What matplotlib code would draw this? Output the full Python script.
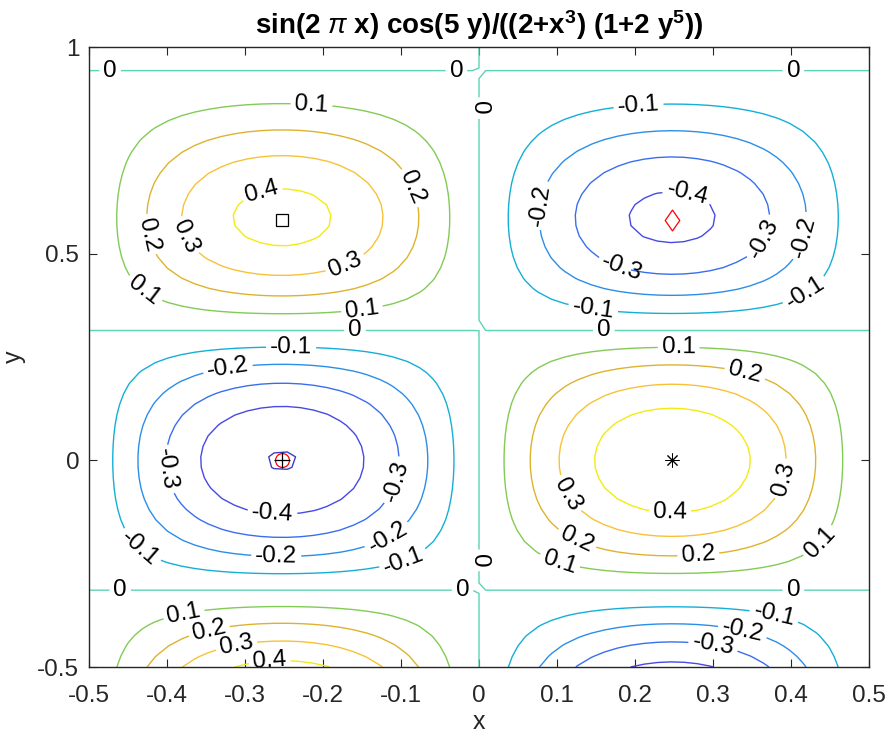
import numpy as np
import matplotlib
matplotlib.use("Agg")
import matplotlib.pyplot as plt
from matplotlib.path import Path

plt.rcParams['font.family'] = ['Liberation Sans', 'DejaVu Sans']
plt.rcParams['mathtext.fontset'] = 'custom'
plt.rcParams['mathtext.rm'] = 'Liberation Sans:bold'
plt.rcParams['mathtext.bf'] = 'Liberation Sans:bold'
plt.rcParams['mathtext.it'] = 'Liberation Sans:italic'

# ---- data ----
x_range = [-0.5, 0.5]
y_range = [-0.5, 1.0]
n_grid = 60
levels = [-0.5, -0.4, -0.3, -0.2, -0.1, 0.0, 0.1, 0.2, 0.3, 0.4]
level_colors = ['#3F3CC4', '#4848E6', '#3A6EF0', '#2B8EE8', '#14AFD6',
                '#5ED3B5', '#82CB55', '#DDB32E', '#F7C236', '#F2EC10']
x_ticks = [-0.5, -0.4, -0.3, -0.2, -0.1, 0.0, 0.1, 0.2, 0.3, 0.4, 0.5]
x_tick_labels = ['-0.5', '-0.4', '-0.3', '-0.2', '-0.1', '0', '0.1', '0.2', '0.3', '0.4', '0.5']
y_ticks = [-0.5, 0.0, 0.5, 1.0]
y_tick_labels = ['-0.5', '0', '0.5', '1']

# extrema markers
square_pt = (-0.253, 0.582)
diamond_pt = (0.247, 0.582)
circle_pt = (-0.253, 0.0)
plus_pt = (-0.253, 0.0)
asterisk_pt = (0.247, 0.0)

# contour label placement hints (data coords)
label_x = [-0.473, -0.029, 0.403, 0.001, -0.215, -0.088, -0.277, -0.426, -0.377, -0.169,
           -0.428, -0.150, -0.159, 0.160, 0.205, 0.090, 0.265, 0.364, 0.418, 0.183,
           0.415, 0.146, -0.241, -0.321, -0.406, -0.110, -0.265, -0.117, -0.097, -0.260,
           -0.441, 0.256, 0.341, 0.123, 0.394, 0.245, 0.127, 0.104, 0.281, 0.441,
           0.001, -0.460, -0.021, 0.403, -0.377, -0.345, -0.310, -0.268, 0.377, 0.337, 0.299]
label_y = [0.937, 0.937, 0.937, 0.852, 0.847, 0.659, 0.637, 0.545, 0.540, 0.465,
           0.416, 0.366, 0.312, 0.308, 0.847, 0.615, 0.630, 0.538, 0.540, 0.465,
           0.416, 0.361, 0.259, 0.211, -0.024, -0.048, -0.131, -0.186, -0.242, -0.228,
           -0.223, 0.262, 0.211, -0.073, -0.048, -0.126, -0.186, -0.242, -0.225, -0.206,
           -0.242, -0.320, -0.322, -0.320, -0.387, -0.421, -0.460, -0.494, -0.387, -0.421, -0.460]

x = np.linspace(x_range[0], x_range[1], n_grid)
y = np.linspace(y_range[0], y_range[1], n_grid)
X, Y = np.meshgrid(x, y)
Z = np.sin(2 * np.pi * X) * np.cos(5 * Y) / ((2 + X ** 3) * (1 + 2 * Y ** 5))

fig = plt.figure(figsize=(8.88, 7.36), dpi=100)
ax = fig.add_axes([89 / 888, 1 - 667 / 736, 780 / 888, 620 / 736])

cs = ax.contour(X, Y, Z, levels=levels, colors=level_colors, linewidths=1.0)
ax.clabel(cs, manual=list(zip(label_x, label_y)), fmt='%g', fontsize=17.5,
          inline=True, inline_spacing=4, colors='k')

diamond = Path([(0, 1), (0.7, 0), (0, -1), (-0.7, 0), (0, 1)],
               [Path.MOVETO, Path.LINETO, Path.LINETO, Path.LINETO, Path.CLOSEPOLY])
ax.plot(*square_pt, marker='s', ms=9, mfc='none', mec='k', mew=0.9, zorder=5)
ax.plot(*diamond_pt, marker=diamond, ms=15, mfc='none', mec='red', mew=0.9, zorder=5)
ax.plot(*circle_pt, marker='o', ms=10, mfc='none', mec='red', mew=0.9, zorder=5)
ax.plot(*plus_pt, marker='+', ms=11, mec='k', mew=0.9, zorder=6)
ax.plot(*asterisk_pt, marker=(8, 2, 0), ms=10, mec='k', mew=0.7, zorder=5)

ax.set_xlim(x_range)
ax.set_ylim(y_range)
ax.set_xticks(x_ticks)
ax.set_xticklabels(x_tick_labels)
ax.set_yticks(y_ticks)
ax.set_yticklabels(y_tick_labels)
ax.tick_params(direction='in', top=True, right=True, length=5.5, width=0.8,
               labelsize=17.5, colors='#262626')
ax.tick_params(axis='x', pad=13)
ax.tick_params(axis='y', pad=7)
for s in ax.spines.values():
    s.set_color('#262626')
    s.set_linewidth(1.0)

ax.set_xlabel('x', fontsize=18, color='#262626', labelpad=2)
ax.set_ylabel('y', fontsize=18, color='#262626', labelpad=8)
ax.set_title(r'sin(2 $\pi$ x) cos(5 y)/((2+x$^{3}$) (1+2 y$^{5}$))',
             fontsize=20, fontweight='bold', color='k', pad=9)

fig.savefig('out.png', dpi=100)
